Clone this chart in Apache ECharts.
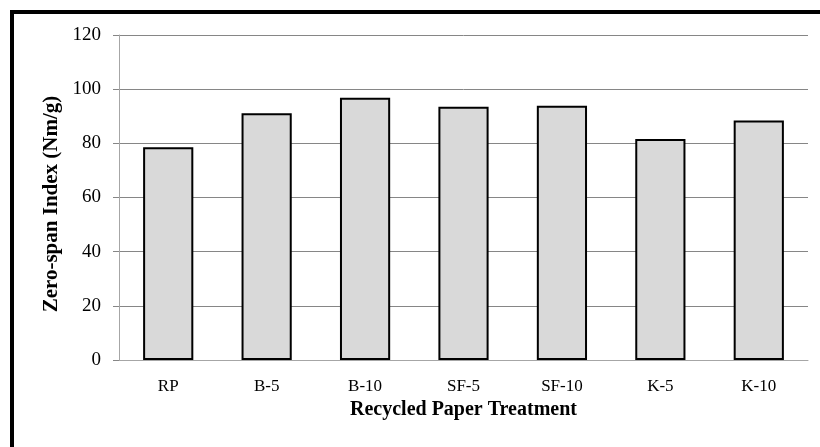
<!DOCTYPE html>
<html>
<head>
<meta charset="utf-8">
<script src="https://cdn.jsdelivr.net/npm/echarts@6/dist/echarts.min.js"></script>
<style>
  html, body { margin: 0; padding: 0; background: #fff; }
  #chart { width: 820px; height: 447px; }
</style>
</head>
<body>
<div id="chart"></div>
<script>
	// values
	var treatments = ['RP', 'B-5', 'B-10', 'SF-5', 'SF-10', 'K-5', 'K-10'];
	var zeroSpan = [78.6, 91.1, 96.8, 93.5, 93.9, 81.6, 88.4];
	var yTicks = { min: 0, max: 120, interval: 20 };

	var serif = '"Liberation Serif", "Times New Roman", serif';

	var chart = echarts.init(document.getElementById('chart'));

	chart.setOption({
		animation: false,
		backgroundColor: '#fff',
		grid: { left: 119, right: 12, top: 35, bottom: 87 },
		// thick black frame, cut off at right and bottom like the original
		graphic: [{
			type: 'rect',
			shape: { x: 12, y: 12, width: 1000, height: 1000 },
			style: { fill: null, stroke: '#000', lineWidth: 4 },
			silent: true
		}],
		xAxis: {
			type: 'category',
			data: treatments,
			name: 'Recycled Paper Treatment',
			nameLocation: 'middle',
			nameGap: 36,
			nameTextStyle: { fontFamily: serif, fontSize: 20, fontWeight: 'bold', color: '#000' },
			axisLine: { lineStyle: { color: '#a6a6a6', width: 1 } },
			axisTick: { show: false },
			axisLabel: { fontFamily: serif, fontSize: 17, color: '#000', margin: 18 }
		},
		yAxis: {
			type: 'value',
			min: yTicks.min,
			max: yTicks.max,
			interval: yTicks.interval,
			name: 'Zero-span Index (Nm/g)',
			nameLocation: 'middle',
			nameGap: 55,
			nameTextStyle: { fontFamily: serif, fontSize: 21, fontWeight: 'bold', color: '#000', padding: [0, 13, 0, 0] },
			axisLine: { show: true, lineStyle: { color: '#a6a6a6', width: 1 } },
			axisTick: { show: true, length: 6, lineStyle: { color: '#868686' } },
			axisLabel: { fontFamily: serif, fontSize: 19, color: '#000', margin: 18 },
			splitLine: { lineStyle: { color: '#868686', width: 1 } }
		},
		series: [{
			type: 'bar',
			data: zeroSpan,
			barWidth: '51%',
			itemStyle: { color: '#d9d9d9', borderColor: '#000', borderWidth: 2 }
		}]
	});
</script>
</body>
</html>
